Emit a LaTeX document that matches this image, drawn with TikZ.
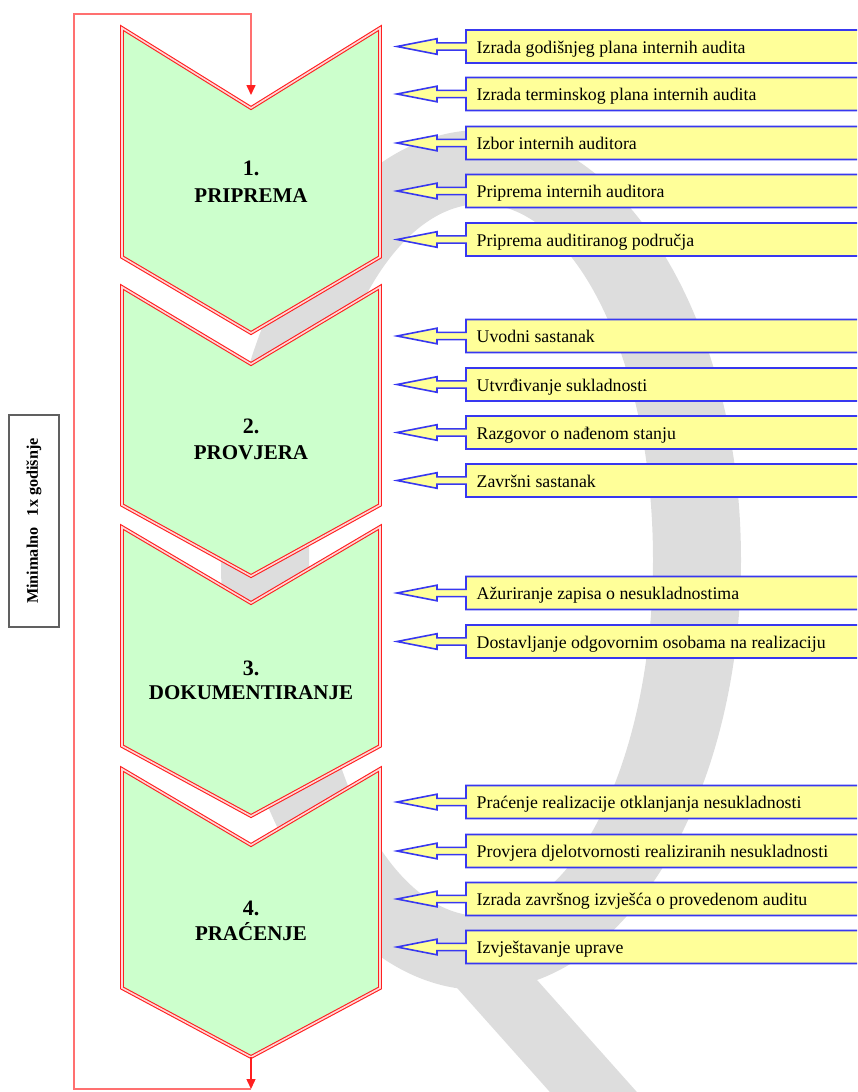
\documentclass[tikz,border=0pt]{standalone}
\usepackage{fontspec}
\setmainfont{Liberation Serif}
\usetikzlibrary{arrows.meta}
\definecolor{chfill}{HTML}{CCFFCC}
\definecolor{chred}{HTML}{FF2020}
\definecolor{chgap}{HTML}{FFD8D8}
\definecolor{boxfill}{HTML}{FFFF99}
\definecolor{boxblue}{HTML}{3838F0}
\definecolor{loopred}{HTML}{FF7070}
\definecolor{bandgray}{HTML}{DDDDDD}
\definecolor{lblgray}{HTML}{606060}
\begin{document}
\begin{tikzpicture}[x=1pt,y=-1pt,
  chevron/.style={fill=chfill, draw=chred, line width=1.1pt, double=chgap, double distance=1.6pt, line join=miter},
  callout/.style={fill=boxfill, draw=boxblue, line width=1.6pt, line join=miter},
  calltext/.style={anchor=base west, inner sep=0pt, font=\fontsize{17.8}{20}\selectfont},
  numtext/.style={anchor=base, inner sep=0pt, font=\fontsize{22}{24}\selectfont\bfseries},
  nametext/.style={anchor=base, inner sep=0pt, font=\fontsize{21}{24}\selectfont\bfseries},
  loopline/.style={draw=loopred, line width=1.6pt},
  looparrow/.style={draw=chred, line width=1.4pt, -{Triangle[length=10pt,width=9pt]}},
]
\useasboundingbox (0,0) rectangle (857,1092);
\clip (0,0) rectangle (857,1092);
% background band
\fill[bandgray, even odd rule] (481,560) ellipse [x radius=260, y radius=430] (481,560) ellipse [x radius=172, y radius=356];
\fill[bandgray] (401,925) -- (488,925) -- (644,1100) -- (557,1100) -- cycle;
% chevrons
\foreach \i/\T/\N/\C/\P in {1/28/108/257/333, 2/287/364/505/576, 3/527/603/746/816, 4/769/845/988/1057}{
  \path[chevron] (122,\T) -- (251,\N) -- (380,\T) -- (380,\C) -- (251,\P) -- (122,\C) -- cycle;
  \coordinate (tip\i) at (251,\P);
  \coordinate (notch\i) at (251,\N);
}
\node[numtext] (num1) at (251,175) {1.};
\node[nametext] (name1) at (251,202) {PRIPREMA};
\node[numtext] (num2) at (251,433) {2.};
\node[nametext] (name2) at (251,459) {PROVJERA};
\node[numtext] (num3) at (251,675) {3.};
\node[nametext] (name3) at (251,699) {DOKUMENTIRANJE};
\node[numtext] (num4) at (251,915) {4.};
\node[nametext] (name4) at (251,940) {PRAĆENJE};
% callouts
\foreach \cy/\txt [count=\k] in {46.5/Izrada godišnjeg plana internih audita, 94/Izrada terminskog plana internih audita, 143/Izbor internih auditora, 191/Priprema internih auditora, 239.5/Priprema auditiranog područja, 336/Uvodni sastanak, 384.5/Utvrđivanje sukladnosti, 432.5/Razgovor o nađenom stanju, 480.5/Završni sastanak, 593/Ažuriranje zapisa o nesukladnostima, 641.5/Dostavljanje odgovornim osobama na realizaciju, 802/Praćenje realizacije otklanjanja nesukladnosti, 851/Provjera djelotvornosti realiziranih nesukladnosti, 899/Izrada završnog izvješća o provedenom auditu, 947/Izvještavanje uprave}{
  \path[callout] (466,\cy-16.5) -- (880,\cy-16.5) -- (880,\cy+16.5) -- (466,\cy+16.5) -- (466,\cy+3.6) -- (437,\cy+3.6) -- (437,\cy+7.8) -- (397,\cy) -- (437,\cy-7.8) -- (437,\cy-3.6) -- (466,\cy-3.6) -- cycle;
  \node[calltext] (box\k) at (476.5,\cy+6.5) {\txt};
}
% frequency label
\node[draw=lblgray, line width=1.4pt, rotate=90, minimum width=212pt, minimum height=50pt, inner sep=0pt, font=\fontsize{16.2}{18}\selectfont\bfseries] (freq) at (34,521) {Minimalno\hspace{0.45em} 1x godišnje};
% loop
\coordinate (bot) at (251,1089);
\coordinate (bl) at (74,1089);
\coordinate (tl) at (74,14);
\coordinate (tr) at (251,14);
\coordinate (entry) at (251,95);
\draw[looparrow] (tip4) -- (bot);
\draw[loopline, -{Triangle[length=10pt,width=9pt,color=chred]}] (bot) -- (bl) -- (tl) -- (tr) -- (entry);
\end{tikzpicture}
\end{document}
